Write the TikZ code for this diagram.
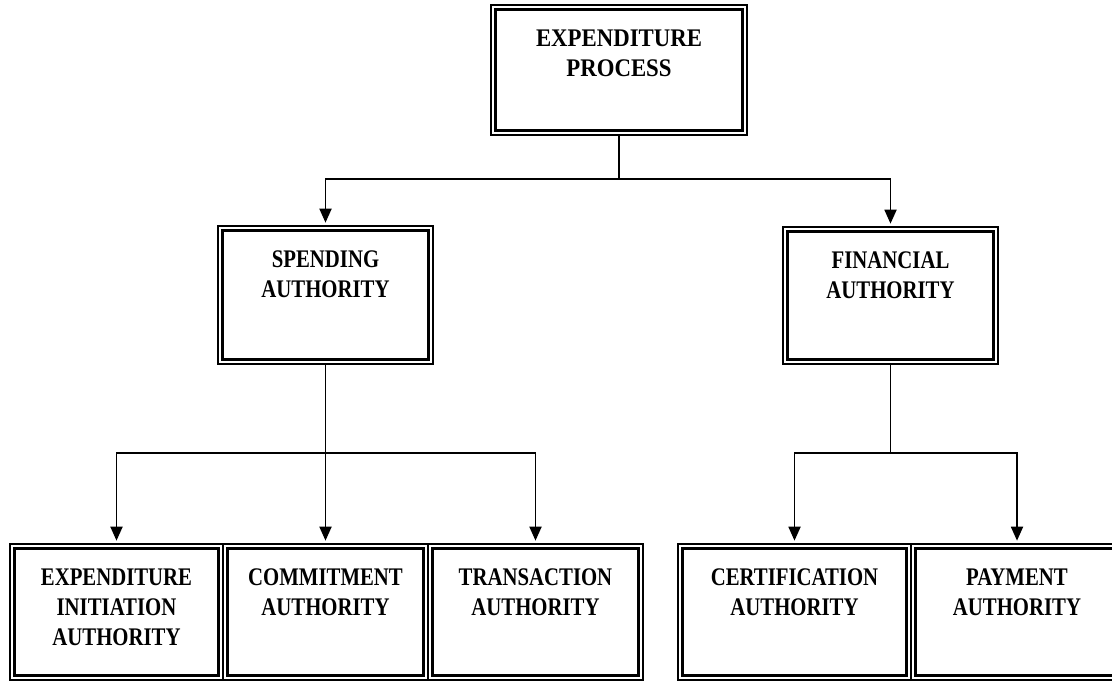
\documentclass[tikz,border=0pt]{standalone}
\usepackage{fontspec}
\usetikzlibrary{arrows.meta}

\newfontfamily\boxfamily{Liberation Serif}[FakeStretch=0.82]
\newfontfamily\topfamily{Liberation Serif}[FakeStretch=0.9]
\newcommand{\blktext}[3]{\parbox[t][#2][t]{#1}{\centering\rule{0pt}{31pt}#3}}

\tikzset{
  blk/.style={rectangle, draw, line width=1pt, inner sep=0pt,
    font=\boxfamily\bfseries\fontsize{19}{22.5}\selectfont},
  ln/.style={line width=1.4pt},
  arr/.style={line width=1.4pt, -{Triangle[length=10.5pt,width=9pt]}, shorten >=2pt}
}

\begin{document}
\begin{tikzpicture}[x=0.75pt,y=-0.75pt]
  \path[use as bounding box, fill=white] (0,0) rectangle (1112,681);

  % Top level
  \node[blk, font=\topfamily\bfseries\fontsize{19}{22.5}\selectfont] (proc) at (619,70) {\blktext{192pt}{97.5pt}{EXPENDITURE\\PROCESS}};

  % Second level
  \node[blk] (spend) at (325.5,295) {\blktext{161.25pt}{103.5pt}{SPENDING\\AUTHORITY}};
  \node[blk] (fin) at (890.5,295.5) {\blktext{161.25pt}{102.75pt}{FINANCIAL\\AUTHORITY}};

  % Third level
  \node[blk] (ei) at (116.5,612) {\blktext{159.75pt}{102pt}{EXPENDITURE\\INITIATION\\AUTHORITY}};
  \node[blk] (comm) at (325.5,612) {\blktext{153.75pt}{102pt}{COMMITMENT\\AUTHORITY}};
  \node[blk] (trans) at (535.5,612) {\blktext{161.25pt}{102pt}{TRANSACTION\\AUTHORITY}};
  \node[blk] (cert) at (794.5,612) {\blktext{174.75pt}{102pt}{CERTIFICATION\\AUTHORITY}};
  \node[blk] (pay) at (1017,612) {\blktext{159pt}{102pt}{PAYMENT\\AUTHORITY}};

  % Inner thick borders
  \foreach \n in {proc,spend,fin,ei,comm,trans,cert,pay}
    \draw[line width=2pt] ([shift={(3.75pt,-3.75pt)}]\n.north west) rectangle ([shift={(-3.75pt,3.75pt)}]\n.south east);

  % Branch points
  \coordinate (j0) at (619,179);
  \coordinate (j1) at (325.5,453);
  \coordinate (j2) at (890.5,453);

  % Connectors
  \draw[ln] (proc) -- (j0);
  \draw[arr] (j0) -| (spend);
  \draw[arr] (j0) -| (fin);

  \draw[ln] (spend) -- (j1);
  \draw[arr] (j1) -| (ei);
  \draw[arr] (j1) -- (comm);
  \draw[arr] (j1) -| (trans);

  \draw[ln] (fin) -- (j2);
  \draw[arr] (j2) -| (cert);
  \draw[arr] (j2) -| (pay);
\end{tikzpicture}
\end{document}
